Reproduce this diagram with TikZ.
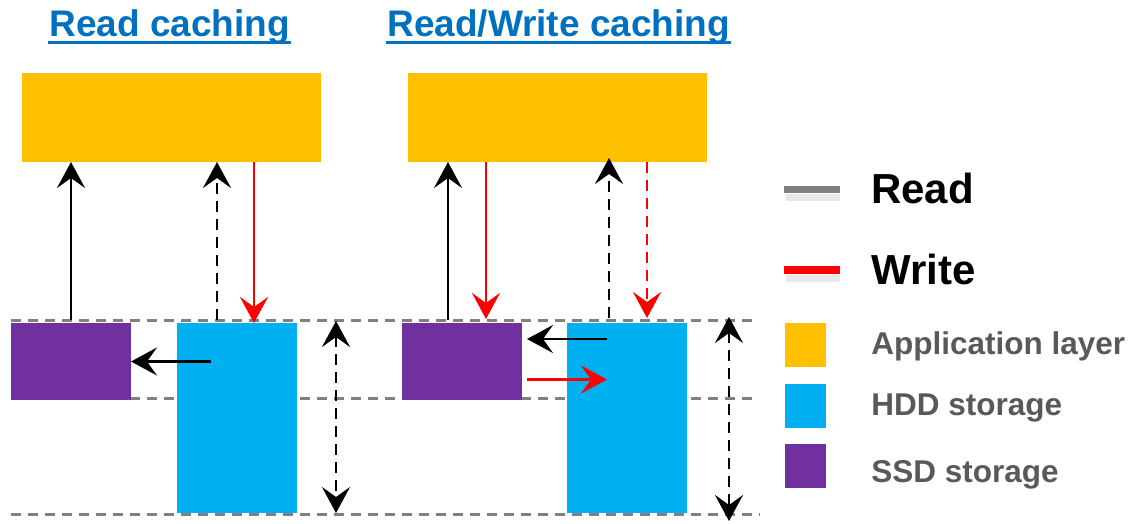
\documentclass[tikz,border=0pt]{standalone}
\usepackage{fontspec}
\setmainfont{Liberation Sans}
\usetikzlibrary{arrows.meta}
\definecolor{appcol}{HTML}{FFC000}
\definecolor{hddcol}{HTML}{00B0F0}
\definecolor{ssdcol}{HTML}{7030A0}
\definecolor{ttlcol}{HTML}{0070C0}
\definecolor{guidecol}{HTML}{808080}
\definecolor{keytxt}{HTML}{595959}
\begin{document}
\begin{tikzpicture}[x=1pt, y=-1pt, line width=2.6pt,
            box/.style = {anchor=north west, inner sep=0, outer sep=0},
            app/.style = {box, fill=appcol, minimum width=299, minimum height=89},
            ssd/.style = {box, fill=ssdcol, minimum width=120, minimum height=77},
            hdd/.style = {box, fill=hddcol, minimum width=120, minimum height=190},
            key/.style = {box, minimum width=41, minimum height=44},
            ttl/.style = {anchor=base west, inner sep=0, text=ttlcol, font=\fontsize{37}{40}\selectfont\bfseries},
            lbl/.style = {anchor=base west, inner sep=0, font=\fontsize{42}{46}\selectfont\bfseries},
            keylbl/.style = {anchor=base west, inner sep=0, text=keytxt, font=\fontsize{31.5}{34}\selectfont\bfseries},
            guide/.style = {draw=guidecol, line width=3pt, dash pattern=on 10pt off 7pt},
            dsh/.style = {dash pattern=on 11pt off 7pt},
            tip/.style = {-{Stealth[length=26pt, width=28pt, inset=10pt]}},
            both/.style = {{Stealth[length=26pt, width=28pt, inset=10pt]}-{Stealth[length=26pt, width=28pt, inset=10pt]}},
            shade/.style = {gray!35, line width=7pt, opacity=.5}]
    \useasboundingbox (0,0) rectangle (1132,523);

    % titles
    \node[ttl] (ttlL) at (48,36) {Read caching};
    \node[ttl] (ttlR) at (386,36) {Read/Write caching};
    \draw[ttlcol, line width=3pt] ([yshift=-6]ttlL.base west) -- ([yshift=-6]ttlL.base east);
    \draw[ttlcol, line width=3pt] ([yshift=-6]ttlR.base west) -- ([yshift=-6]ttlR.base east);

    % guide lines
    \coordinate (g1a) at (11,320);  \coordinate (g1b) at (752,320);
    \coordinate (g2a) at (11,398);  \coordinate (g2b) at (752,398);
    \coordinate (g3a) at (11,514);  \coordinate (g3b) at (760,514);
    \draw[guide] (g1a) -- (g1b);
    \draw[guide] (g2a) -- (g2b);
    \draw[guide] (g3a) -- (g3b);

    % read caching
    \node[app] (appL) at (22,73) {};
    \node[ssd] (ssdL) at (11,323) {};
    \node[hdd] (hddL) at (177,323) {};
    \coordinate (rdL) at ([xshift=-20, yshift=3]hddL.north);
    \coordinate (wrL) at ([xshift=17]hddL.north);
    \coordinate (cpL) at ([xshift=34]hddL.west |- ssdL.east);

    \draw[tip] ([yshift=3]ssdL.north) -- (appL.south -| ssdL.north);
    \draw[tip, dsh] (rdL) -- (appL.south -| rdL);
    \draw[tip, red] (appL.south -| wrL) -- (wrL);
    \draw[tip] (cpL) -- (ssdL.east);
    \coordinate (dL1) at (336,321);
    \coordinate (dL2) at (336,513);
    \draw[both, dsh] (dL1) -- (dL2);

    % read/write caching
    \node[app] (appR) at (408,73) {};
    \node[ssd] (ssdR) at (402,323) {};
    \node[hdd] (hddR) at (567,323) {};
    \coordinate (rdR) at ([xshift=-14, yshift=3]ssdR.north);
    \coordinate (wrR) at ([xshift=24, yshift=4]ssdR.north);
    \coordinate (rdR2) at ([xshift=-18, yshift=5]hddR.north);
    \coordinate (wrR2) at ([xshift=20, yshift=5]hddR.north);
    \coordinate (cpR) at ([xshift=40, yshift=-16]hddR.north west);
    \coordinate (flR) at ([xshift=5, yshift=-18]ssdR.east);

    \draw[tip] (rdR) -- (appR.south -| rdR);
    \draw[tip, red] (appR.south -| wrR) -- (wrR);
    \draw[tip, dsh] (rdR2) -- ([yshift=4]appR.south -| rdR2);
    \draw[tip, red, dsh] (appR.south -| wrR2) -- (wrR2);
    \draw[tip] (cpR) -- ([xshift=5]ssdR.east |- cpR);
    \draw[tip, red] (flR) -- (cpR |- flR);
    \coordinate (dR1) at (729,317);
    \coordinate (dR2) at (729,521);
    \draw[both, dsh] (dR1) -- (dR2);

    % legend
    \draw[shade] (786,197) -- (840,197);
    \draw[guidecol, line width=7pt] (784,189.5) -- (840,189.5);
    \node[lbl] (lblRd) at (870,203) {Read};
    \draw[shade] (786,278) -- (840,278);
    \draw[red, line width=8pt] (784,270) -- (840,270);
    \node[lbl] (lblWr) at (870,284) {Write};

    \node[key, fill=appcol] (keyApp) at (785,323) {};
    \node[key, fill=hddcol] (keyHdd) at (785,384) {};
    \node[key, fill=ssdcol] (keySsd) at (785,444) {};
    \node[keylbl] (txtApp) at (870,354) {Application layer};
    \node[keylbl] (txtHdd) at (870,415) {HDD storage};
    \node[keylbl] (txtSsd) at (870,482) {SSD storage};
\end{tikzpicture}
\end{document}
